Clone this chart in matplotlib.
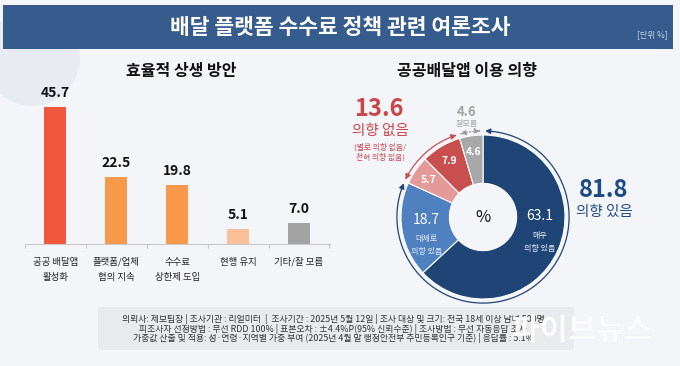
import numpy as np
import matplotlib
matplotlib.use('Agg')
import matplotlib.pyplot as plt
from matplotlib.patches import Rectangle, Ellipse, FancyArrowPatch
from matplotlib.path import Path
import matplotlib.patheffects as pe

plt.rcParams['font.family'] = ['Noto Sans CJK KR', 'DejaVu Sans']

W, H = 680, 366

# ---- data ----
title = '배달 플랫폼 수수료 정책 관련 여론조사'
unit = '[단위 %]'

bar_title = '효율적 상생 방안'
bar_labels = ['공공 배달앱\n활성화', '플랫폼/업체\n협의 지속', '수수료\n상한제 도입', '현행 유지', '기타/잘 모름']
bar_values = [45.7, 22.5, 19.8, 5.1, 7.0]
bar_colors = ['#f1573a', '#f7984a', '#f7984a', '#f9c09a', '#a3a3a3']

pie_title = '공공배달앱 이용 의향'
pie_values = [63.1, 18.7, 5.7, 7.9, 4.6]
pie_names = ['매우\n의향 있음', '대체로\n의향 있음', '', '', '']
pie_colors = ['#1f4577', '#4f80c0', '#e39a98', '#c94f4f', '#a8a8a8']

yes_total = 81.8
no_total = 13.6
dk_total = 4.6

footer = ['의뢰사: 제보팀장 | 조사기관 : 리얼미터  |  조사기간 : 2025년 5월 12일 | 조사 대상 및 크기: 전국 18세 이상 남녀 500명',
          '피조사자 선정방법 : 무선 RDD 100% | 표본오차 : ±4.4%P(95% 신뢰수준) | 조사방법 : 무선 자동응답 조사',
          '가중값 산출 및 적용: 성·연령·지역별 가중 부여 (2025년 4월 말 행정안전부 주민등록인구 기준) | 응답률 : 5.1%']


# pixel -> figure fraction helpers
def fx(x):
    return x / W


def fy(y):
    return 1 - y / H


fig = plt.figure(figsize=(6.8, 3.66), dpi=100)
fig.patch.set_facecolor('#f3f5f8')

# faint decoration top-left
fig.patches.append(Ellipse((fx(32), fy(58)), 2 * 48 / W, 2 * 48 / H, transform=fig.transFigure,
                           facecolor='#e8ecf2', edgecolor='none', zorder=-1))

# title banner
fig.patches.append(Rectangle((fx(3), fy(49)), fx(673) - fx(3), fy(5) - fy(49),
                             transform=fig.transFigure, facecolor='#355c8d', edgecolor='none'))
fig.text(fx(340), fy(27), title, color='white', fontsize=15.5, fontweight='bold',
         ha='center', va='center')
fig.text(fx(668), fy(35), unit, color='#c5d2e4', fontsize=6, ha='right', va='center')

# ---- bar chart ----
fig.text(fx(181), fy(71), bar_title, fontsize=11.5, fontweight='bold', ha='center', va='center',
         color='#111111')

ax = fig.add_axes([fx(25), fy(244), fx(330) - fx(25), fy(94) - fy(244)])
ax.set_facecolor('none')
ax.set_zorder(2)
xs = np.arange(len(bar_values))
ax.bar(xs, bar_values, width=0.36, color=bar_colors)
for x, v in zip(xs, bar_values):
    ax.text(x, v + 2.3, f'{v:.1f}', ha='center', va='bottom', fontsize=10,
            fontweight='bold', color='#111111')
ax.set_xlim(-0.49, 4.51)
ax.set_ylim(0, 50)
for s in ['top', 'right', 'left']:
    ax.spines[s].set_visible(False)
ax.spines['bottom'].set_color('#c8c8c8')
ax.spines['bottom'].set_linewidth(0.8)
ax.set_yticks([])
ax.set_xticks(np.arange(-0.5, 5, 1.0))
ax.set_xticklabels([])
ax.tick_params(axis='x', length=3, color='#c8c8c8', width=0.8)
for x, lab in zip(xs, bar_labels):
    ax.text(x, -4.5, lab, ha='center', va='top', fontsize=6.8, color='#222222',
            linespacing=1.9)

# ---- donut ----
fig.text(fx(467), fy(71), pie_title, fontsize=11.5, fontweight='bold', ha='center', va='center',
         color='#111111')

R = 82.0
cx, cy = 483, 217
half = 130
pax = fig.add_axes([fx(cx - half), fy(cy + half), 2 * half / W, 2 * half / H])
pax.axis('off')
inner = 0.41
pax.pie(pie_values, colors=pie_colors, startangle=90, counterclock=False, radius=1,
        wedgeprops=dict(width=1 - inner, edgecolor='white', linewidth=0.8))
pax.set_xlim(-half / R, half / R)
pax.set_ylim(-half / R, half / R)
pax.set_aspect('auto')
pax.text(0, 0, '%', ha='center', va='center', fontsize=12, color='#111111')

cum = np.cumsum([0] + pie_values)
total = sum(pie_values)
for i, v in enumerate(pie_values):
    mid = 90 - 360 * (cum[i] + v / 2) / total
    if i == 0:
        mid = -6
    r = 0.7 if i < 2 else 0.8
    tx, ty = r * np.cos(np.radians(mid)), r * np.sin(np.radians(mid))
    if pie_names[i]:
        pax.text(tx, ty + 0.08, f'{v:.1f}', ha='center', va='center', fontsize=10,
                 color='white')
        pax.text(tx, ty - 0.1, pie_names[i], ha='center', va='top', fontsize=5.8,
                 color='#e8eef8', linespacing=1.5)
    else:
        pax.text(tx, ty, f'{v:.1f}', ha='center', va='center', fontsize=7.5,
                 color='white', fontweight='bold')


def arc(a0, a1, color, ls='-'):
    t = np.radians(np.linspace(a0, a1, 80))
    ra = 1.05
    pts = np.column_stack([ra * np.cos(t), ra * np.sin(t)])
    p = FancyArrowPatch(path=Path(pts), arrowstyle='<|-|>,head_length=3,head_width=1.6',
                        color=color, lw=0.9, linestyle=ls, mutation_scale=1)
    pax.add_patch(p)


yes_end = 90 - 360 * yes_total / total
no_end = yes_end - 360 * no_total / total
dk_end = no_end - 360 * dk_total / total
arc(88.5, yes_end + 1.5, '#1f4577')
arc(yes_end - 1.5, no_end + 1.5, '#c94f4f')
arc(no_end - 1.5, dk_end + 2.0, '#9a9a9a', ls=':')

# outside totals
fig.text(fx(604), fy(190), f'{yes_total:.1f}', fontsize=17, fontweight='bold', color='#1f4b85',
         ha='center', va='center')
fig.text(fx(604), fy(212), '의향 있음', fontsize=10.5, fontweight='medium', color='#1f4b85',
         ha='center', va='center')
fig.text(fx(379), fy(109), f'{no_total:.1f}', fontsize=17, fontweight='bold', color='#c9474a',
         ha='center', va='center')
fig.text(fx(380), fy(131), '의향 없음', fontsize=10.5, fontweight='medium', color='#c9474a',
         ha='center', va='center')
fig.text(fx(380), fy(147), '(별로 의향 없음/', fontsize=5.6, color='#c9474a', ha='center', va='center')
fig.text(fx(380), fy(157), '전혀 의향 없음)', fontsize=5.6, color='#c9474a', ha='center', va='center')
fig.text(fx(467), fy(112), f'{dk_total:.1f}', fontsize=9.5, fontweight='bold', color='#a3a3a3',
         ha='center', va='center')
fig.text(fx(467), fy(123), '잘모름', fontsize=5.8, color='#a3a3a3', ha='center', va='center')

# ---- footer ----
fig.patches.append(Rectangle((fx(98), fy(350)), fx(574) - fx(98), fy(307) - fy(350),
                             transform=fig.transFigure, facecolor='#e8eaed', edgecolor='none'))
for k, line in enumerate(footer):
    fig.text(fx(333), fy(319 + 9.5 * k), line, fontsize=6.4, color='#333333',
             ha='center', va='center')

# watermark
fig.text(fx(582), fy(331), '파이브뉴스', fontsize=22, fontweight='bold', color='white', alpha=0.9,
         ha='center', va='center',
         path_effects=[pe.withSimplePatchShadow(offset=(0, 0), shadow_rgbFace='#c0c4ca', alpha=0.4)])

fig.savefig('out.png', dpi=100, facecolor=fig.get_facecolor())
